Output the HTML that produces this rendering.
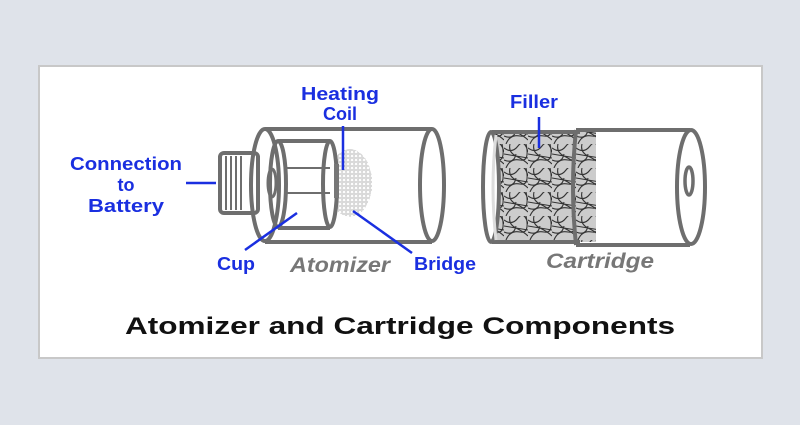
<!DOCTYPE html>
<html><head><style>
body{margin:0;background:#dfe3ea;}
svg{display:block}
text{font-family:"Liberation Sans",sans-serif;font-weight:bold}
</style></head><body>
<svg width="800" height="425" viewBox="0 0 800 425">
<defs>
<pattern id="mesh" width="4" height="4" patternUnits="userSpaceOnUse">
<rect width="4" height="4" fill="#fff"/><circle cx="2" cy="2" r="1.2" fill="none" stroke="#aaa" stroke-width="0.7"/>
</pattern>
<pattern id="fib" width="24" height="24" patternUnits="userSpaceOnUse">
<rect width="24" height="24" fill="#ccc"/>
<path d="M0 4 Q8 10 14 2 T24 8 M2 24 Q6 14 16 16 T22 0 M0 16 Q10 20 12 10 M6 0 Q4 8 12 12 T24 20 M0 10 L24 14" stroke="#333" stroke-width="1.1" fill="none"/>
</pattern>
</defs>
<rect x="39" y="66" width="723" height="292" fill="#fff" stroke="#c8c8c8" stroke-width="2"/>
<g stroke="#6e6e6e" stroke-width="4" fill="none">
<line x1="265" y1="129" x2="432" y2="129"/>
<line x1="265" y1="242" x2="432" y2="242"/>
<ellipse cx="432" cy="185" rx="12" ry="56" fill="#fff"/>
<ellipse cx="350" cy="183" rx="22" ry="34" fill="url(#mesh)" stroke="none"/>
<rect x="220" y="153" width="38" height="60" rx="4" fill="#fff"/>
<g stroke-width="2"><line x1="226" y1="156" x2="226" y2="210"/><line x1="231" y1="156" x2="231" y2="210"/><line x1="236" y1="156" x2="236" y2="210"/><line x1="241" y1="156" x2="241" y2="210"/></g>
<ellipse cx="265" cy="185" rx="14" ry="56" fill="none"/>
<line x1="278" y1="141" x2="330" y2="141"/>
<line x1="278" y1="228" x2="330" y2="228"/>
<ellipse cx="330" cy="184" rx="7" ry="43" fill="#fff"/>
<ellipse cx="278" cy="184" rx="8" ry="43"/>
<g stroke-width="2"><line x1="285" y1="168" x2="330" y2="168"/><line x1="285" y1="193" x2="330" y2="193"/></g>
<ellipse cx="272" cy="183" rx="4" ry="14" stroke-width="3"/>
<rect x="334" y="164" width="5" height="34" fill="#777" stroke="none"/>
<rect x="492" y="132" width="104" height="110" fill="url(#fib)" stroke="none"/>
<line x1="492" y1="132" x2="580" y2="132"/>
<line x1="492" y1="242" x2="580" y2="242"/>
<ellipse cx="491" cy="187" rx="8" ry="55" fill="#fff"/>
<path d="M496 135 Q490 187 496 240" stroke="#ddd" stroke-width="3"/>
<line x1="576" y1="130" x2="690" y2="130"/>
<line x1="576" y1="245" x2="690" y2="245"/>
<path d="M576 130 Q570 187 576 245"/>
<ellipse cx="691" cy="187" rx="14" ry="57" fill="#fff"/>
<ellipse cx="689" cy="181" rx="4" ry="14" stroke-width="3.5"/>
</g>
<g stroke="#1a2fe0" stroke-width="2.5">
<line x1="186" y1="183" x2="216" y2="183"/>
<line x1="343" y1="126" x2="343" y2="170"/>
<line x1="245" y1="250" x2="297" y2="213"/>
<line x1="353" y1="211" x2="412" y2="253"/>
<line x1="539" y1="117" x2="539" y2="148"/>
</g>
<g fill="#1a2fe0" font-size="18" text-anchor="middle">
<text x="126" y="170" textLength="112" lengthAdjust="spacingAndGlyphs">Connection</text>
<text x="126" y="191">to</text>
<text x="126" y="212" textLength="76" lengthAdjust="spacingAndGlyphs">Battery</text>
<text x="340" y="100" textLength="78" lengthAdjust="spacingAndGlyphs">Heating</text>
<text x="340" y="120">Coil</text>
<text x="236" y="270" textLength="38" lengthAdjust="spacingAndGlyphs">Cup</text>
<text x="445" y="270" textLength="62" lengthAdjust="spacingAndGlyphs">Bridge</text>
<text x="534" y="108" textLength="48" lengthAdjust="spacingAndGlyphs">Filler</text>
</g>
<g fill="#777" font-size="21" font-style="italic" text-anchor="middle" style="font-weight:normal">
<text x="340" y="272" textLength="100" lengthAdjust="spacingAndGlyphs">Atomizer</text>
<text x="600" y="268" textLength="108" lengthAdjust="spacingAndGlyphs">Cartridge</text>
</g>
<text x="400" y="334" text-anchor="middle" font-size="24" fill="#111" textLength="550" lengthAdjust="spacingAndGlyphs">Atomizer and Cartridge Components</text>
</svg>
</body></html>
